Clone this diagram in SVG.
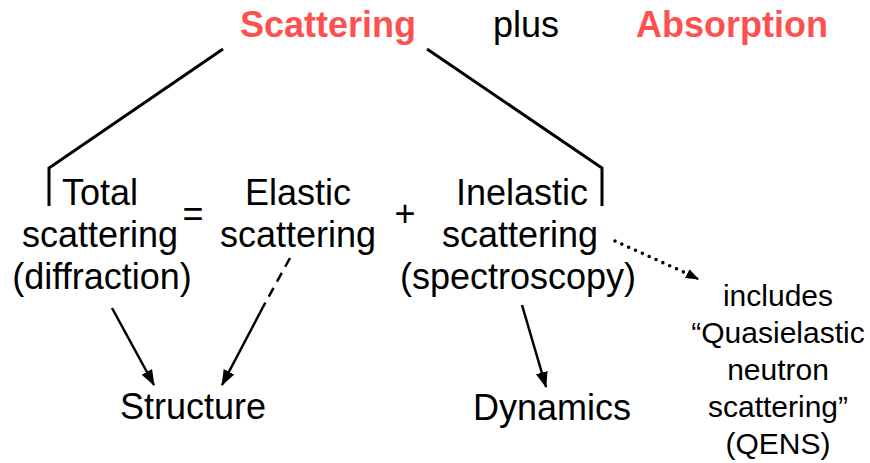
<svg xmlns="http://www.w3.org/2000/svg" width="870" height="463" viewBox="0 0 870 463">
<style>
text{font-family:"Liberation Sans",Arial,sans-serif;font-size:36px;fill:#000;text-anchor:middle}
.red{fill:#FF5050;font-weight:bold}
.small{font-size:30px}
.br{fill:none;stroke:#000;stroke-width:3;stroke-linejoin:miter}
.arr{fill:none;stroke:#000;stroke-width:2.5}
.dash{stroke-dasharray:10 7}
.dot{fill:none;stroke:#000;stroke-width:3.6;stroke-linecap:round;stroke-dasharray:0 7.5}
</style>
<defs>
<marker id="ah" markerUnits="userSpaceOnUse" markerWidth="16" markerHeight="12" refX="15" refY="6" orient="auto">
<path d="M0,0 L16,6 L0,12 z" fill="#000"/>
</marker>
<marker id="ahs" markerUnits="userSpaceOnUse" markerWidth="13" markerHeight="10" refX="12" refY="5" orient="auto">
<path d="M0,0 L13,5 L0,10 z" fill="#000"/>
</marker>
</defs>
<rect width="870" height="463" fill="#fff"/>
<g id="title-scattering"><text class="red" x="328" y="37">Scattering</text></g>
<g id="title-plus"><text x="526" y="37">plus</text></g>
<g id="title-absorption"><text class="red" x="732" y="37">Absorption</text></g>
<g id="total"><text x="100" y="205">Total</text><text x="100" y="247">scattering</text><text x="102" y="289">(diffraction)</text></g>
<g id="equals"><text x="193" y="226">=</text></g>
<g id="elastic"><text x="298" y="205">Elastic</text><text x="298" y="247">scattering</text></g>
<g id="plus-op"><text x="405" y="226">+</text></g>
<g id="inelastic"><text x="522" y="205">Inelastic</text><text x="520" y="247">scattering</text><text x="518" y="289">(spectroscopy)</text></g>
<g id="structure"><text x="193" y="419">Structure</text></g>
<g id="dynamics"><text x="552" y="420">Dynamics</text></g>
<g id="qens"><text class="small" x="778" y="306">includes</text><text class="small" x="778" y="343">“Quasielastic</text><text class="small" x="778" y="380">neutron</text><text class="small" x="778" y="417">scattering”</text><text class="small" x="778" y="454">(QENS)</text></g>
<g id="connectors">
<path class="br" d="M223,49 L49,168 L49,206"/>
<path class="br" d="M427,49 L602,168 L602,206"/>
<line class="arr" x1="112" y1="308" x2="154" y2="385" marker-end="url(#ah)"/>
<line class="arr dash" x1="290" y1="258" x2="263" y2="307"/>
<line class="arr" x1="263" y1="307" x2="222" y2="385" marker-end="url(#ah)"/>
<line class="arr" x1="522" y1="305" x2="546" y2="387" marker-end="url(#ah)"/>
<line class="dot" x1="615" y1="241" x2="688" y2="274"/>
<line class="arr" x1="688" y1="274" x2="698" y2="279" stroke-width="0" marker-end="url(#ahs)"/>
</g>
</svg>
